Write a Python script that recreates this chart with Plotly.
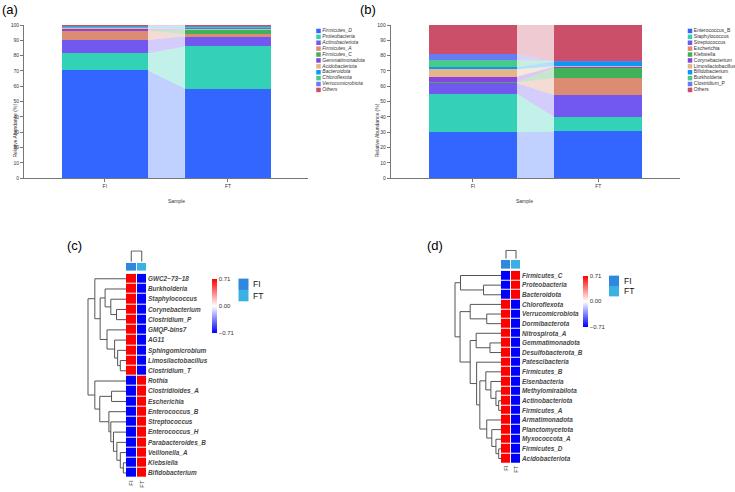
import plotly.graph_objects as go

W, H = 735, 492
def fx(p): return p / W
def fy(p): return 1 - p / H

# ---------------- DATA ----------------
samples = ["FI", "FT"]

phyla = ["Firmicutes_D", "Proteobacteria", "Actinobacteriota", "Firmicutes_A", "Firmicutes_C",
         "Gemmatimonadota", "Acidobacteriota", "Bacteroidota", "Chloroflexota", "Verrucomicrobiota", "Others"]
phyla_FI = [70.3, 11.2, 8.8, 6.0, 0.3, 1.0, 0.5, 0.5, 0.5, 0.4, 0.5]
phyla_FT = [58.5, 27.5, 6.7, 1.3, 2.8, 0.5, 0.3, 1.0, 0.4, 0.5, 0.5]

genera = ["Enterococcus_B", "Staphylococcus", "Streptococcus", "Escherichia", "Klebsiella",
          "Corynebacterium", "Limosilactobacillus", "Bifidobacterium", "Burkholderia", "Clostridium_P", "Others"]
genera_FI = [29.9, 25.2, 7.1, 0.2, 0.1, 3.8, 4.8, 1.5, 4.3, 4.0, 19.1]
genera_FT = [30.5, 9.5, 14.2, 11.2, 6.9, 0.6, 0.2, 3.0, 0.1, 0.1, 23.7]

stack_colors = ["#3366FF", "#33D1B5", "#7257F0", "#DB8C72", "#41B05A", "#8A44DD",
                "#E4B48A", "#0A99F2", "#49C98C", "#667BF5", "#CC4F6A"]

heat_c_rows = ["GWC2\u221273\u221218", "Burkholderia", "Staphylococcus", "Corynebacterium", "Clostridium_P",
               "GMQP-bins7", "AG11", "Sphingomicrobium", "Limosilactobacillus", "Clostridium_T",
               "Rothia", "Clostridioides_A", "Escherichia", "Enterococcus_B", "Streptococcus",
               "Enterococcus_H", "Parabacteroides_B", "Veillonella_A", "Klebsiella", "Bifidobacterium"]
heat_c_FI = [0.71, 0.71, 0.71, 0.71, 0.71, 0.71, 0.71, 0.71, 0.71, 0.71,
             -0.71, -0.71, -0.71, -0.71, -0.71, -0.71, -0.71, -0.71, -0.71, -0.71]
heat_c_FT = [-0.71, -0.71, -0.71, -0.71, -0.71, -0.71, -0.71, -0.71, -0.71, -0.71,
             0.71, 0.71, 0.71, 0.71, 0.71, 0.71, 0.71, 0.71, 0.71, 0.71]
# row dendrogram merges: (child_a, child_b, height)
tree_c = [(3, 4, 0.25), (2, 20, 0.40), (1, 21, 0.55), (8, 9, 0.15), (7, 23, 0.22), (6, 24, 0.30),
          (5, 25, 0.50), (22, 26, 0.68), (0, 27, 0.82),
          (18, 19, 0.07), (17, 29, 0.15), (16, 30, 0.24), (15, 31, 0.33), (14, 32, 0.40), (13, 33, 0.45),
          (11, 12, 0.38), (35, 34, 0.69), (10, 36, 0.82), (28, 37, 1.0)]

heat_d_rows = ["Firmicutes_C", "Proteobacteria", "Bacteroidota", "Chloroflexota", "Verrucomicrobiota",
               "Dormibacterota", "Nitrospirota_A", "Gemmatimonadota", "Desulfobacterota_B", "Patescibacteria",
               "Firmicutes_B", "Eisenbacteria", "Methylomirabilota", "Actinobacteriota", "Firmicutes_A",
               "Armatimonadota", "Planctomycetota", "Myxococcota_A", "Firmicutes_D", "Acidobacteriota"]
heat_d_FI = [-0.71, -0.71, -0.71, 0.71, 0.71, 0.71, 0.71, 0.71, 0.71, 0.71,
             0.71, 0.71, 0.71, 0.71, 0.71, 0.71, 0.71, 0.71, 0.71, 0.71]
heat_d_FT = [0.71, 0.71, 0.71, -0.71, -0.71, -0.71, -0.71, -0.71, -0.71, -0.71,
             -0.71, -0.71, -0.71, -0.71, -0.71, -0.71, -0.71, -0.71, -0.71, -0.71]
tree_d = [(1, 2, 0.38), (0, 20, 0.88), (4, 5, 0.31), (3, 22, 0.67), (7, 8, 0.24), (6, 24, 0.54),
          (13, 14, 0.05), (12, 26, 0.11), (11, 27, 0.22), (10, 28, 0.33),
          (18, 19, 0.05), (17, 30, 0.11), (16, 31, 0.20), (15, 32, 0.31),
          (29, 33, 0.46), (9, 34, 0.53), (25, 35, 0.67), (23, 36, 0.89), (21, 37, 1.0)]
tree_cols = [(0, 1, 1.0)]

FI_COL, FT_COL = "#2F87DE", "#3AB0E4"
FONT = "Liberation Sans, Arial, sans-serif"

# ---------------- helpers ----------------
def rgba(hexc, a):
    h = hexc.lstrip("#")
    return "rgba(%d,%d,%d,%.2f)" % (int(h[0:2], 16), int(h[2:4], 16), int(h[4:6], 16), a)

def dendro(n, merges):
    pos = {i: float(i) for i in range(n)}
    hgt = {i: 0.0 for i in range(n)}
    hs, ps = [], []
    for k, (a, b, h) in enumerate(merges):
        for c in (a, b):
            hs += [hgt[c], h, None]; ps += [pos[c], pos[c], None]
        hs += [h, h, None]; ps += [pos[a], pos[b], None]
        pos[n + k] = (pos[a] + pos[b]) / 2; hgt[n + k] = h
    return hs, ps

fig = go.Figure()
layout = {}
annotations = []
shapes = []
BW = 0.7

def hidden(domain, rng, anchor):
    return dict(domain=domain, range=rng, visible=False, anchor=anchor, fixedrange=True)

def bar_panel(ax, lax, taxa, vfi, vft, xd, legx, italic):
    xa, ya = "x" + ax, "y" + ax
    xk, yk = "xaxis" + ax, "yaxis" + ax
    cfi = [sum(vfi[:i]) for i in range(len(vfi) + 1)]
    cft = [sum(vft[:i]) for i in range(len(vft) + 1)]
    for i, t in enumerate(taxa):
        fig.add_trace(go.Scatter(
            x=[BW / 2, BW / 2, 1 - BW / 2, 1 - BW / 2, BW / 2],
            y=[cfi[i], cfi[i + 1], cft[i + 1], cft[i], cfi[i]],
            fill="toself", fillcolor=rgba(stack_colors[i], 0.3), line=dict(width=0),
            mode="lines", hoverinfo="skip", showlegend=False, xaxis=xa, yaxis=ya))
    for i, t in enumerate(taxa):
        fig.add_trace(go.Bar(x=[0, 1], y=[vfi[i], vft[i]], width=BW, name=t,
                             marker=dict(color=stack_colors[i], line=dict(width=0)),
                             showlegend=False, xaxis=xa, yaxis=ya))
    axcol = "#777777"
    layout[xk] = dict(domain=[fx(xd[0]), fx(xd[1])], range=[-0.656, 1.652], tickvals=[0, 1],
                      ticktext=samples, showline=True, linecolor=axcol, linewidth=1, ticks="outside",
                      ticklen=3, tickcolor=axcol, tickfont=dict(size=5, color="#333"), showgrid=False,
                      zeroline=False, anchor=ya, fixedrange=True)
    layout[yk] = dict(domain=[fy(177.3), fy(22.3)], range=[0, 100], tickvals=list(range(0, 101, 10)),
                      showline=True, linecolor=axcol, linewidth=1, ticks="outside", ticklen=3,
                      tickcolor=axcol, tickfont=dict(size=5, color="#333"), showgrid=False,
                      zeroline=False, anchor=xa, fixedrange=True)
    annotations.append(dict(text="Relative Abundance (%)", x=fx(xd[0] - 14), y=fy(99.8), xref="paper",
                            yref="paper", textangle=-90, showarrow=False, font=dict(size=5, color="#333")))
    annotations.append(dict(text="Sample", x=fx((xd[0] + xd[1]) / 2), y=fy(200), xref="paper",
                            yref="paper", showarrow=False, font=dict(size=5, color="#333")))
    # legend drawn on its own axis
    lx, ly = "x" + lax, "y" + lax
    txt = [("<i>%s</i>" % t) if italic else t for t in taxa]
    fig.add_trace(go.Scatter(x=[0] * len(taxa), y=list(range(len(taxa))), mode="markers+text",
                             text=txt, textposition="middle right",
                             textfont=dict(size=5, color="#333"),
                             marker=dict(symbol="square", size=4.5, color=stack_colors, line=dict(width=0)),
                             hoverinfo="skip", showlegend=False, xaxis=lx, yaxis=ly, cliponaxis=False))
    right = min(legx + 40, W)
    layout["xaxis" + lax] = hidden([fx(legx - 2.3), fx(right)], [-2.3, right - legx], ly)
    layout["yaxis" + lax] = hidden([fy(28.3 + 10.5 * 5.97), fy(28.3 - 0.5 * 5.97)], [10.5, -0.5], lx)

def heat_panel(axs, rows, vfi, vft, tree, hx, hy, dleft, ann_y, top_y, cb, leg):
    a_h, a_d, a_a, a_t = axs
    n = len(rows)
    z = [[vfi[i], vft[i]] for i in range(n)]
    fig.add_trace(go.Heatmap(
        z=z, x=[0, 1], y=list(range(n)), zmin=-0.7101, zmax=0.7101, xgap=1, ygap=1,
        colorscale=[[0, "#0000FF"], [0.5, "#FFFFFF"], [1, "#FF0000"]],
        colorbar=dict(x=fx(cb[0]), xanchor="left", y=fy(cb[1]), yanchor="top", len=cb[2],
                      lenmode="pixels", thickness=5, thicknessmode="pixels", xpad=0, ypad=0,
                      outlinewidth=0, tickvals=[-0.71, 0, 0.71], ticktext=["\u22120.71", "0.00", "0.71"],
                      ticks="", tickfont=dict(size=6, color="#333")),
        hoverinfo="skip", xaxis="x" + a_h, yaxis="y" + a_h))
    layout["xaxis" + a_h] = dict(domain=[fx(hx[0]), fx(hx[1])], range=[-0.5, 1.5], tickvals=[0, 1],
                                 ticktext=samples, tickangle=-90, tickfont=dict(size=6, color="#333"),
                                 ticks="", showline=False, showgrid=False, zeroline=False,
                                 anchor="y" + a_h, fixedrange=True)
    layout["yaxis" + a_h] = dict(domain=[fy(hy[1]), fy(hy[0])], range=[n - 0.5, -0.5],
                                 tickvals=list(range(n)), ticktext=["<b><i>%s</i></b>" % r for r in rows],
                                 side="right", ticks="", tickfont=dict(size=6.4, color="#484848"),
                                 showline=False, showgrid=False, zeroline=False,
                                 anchor="x" + a_h, fixedrange=True)
    # row dendrogram
    hs, ps = dendro(n, tree)
    fig.add_trace(go.Scatter(x=hs, y=ps, mode="lines", line=dict(color="#555", width=1),
                             hoverinfo="skip", showlegend=False, xaxis="x" + a_d, yaxis="y" + a_d))
    layout["xaxis" + a_d] = hidden([fx(dleft - 1), fx(hx[0])], [1.0 + 1.0 / (hx[0] - dleft), 0], "y" + a_d)
    layout["yaxis" + a_d] = hidden([fy(hy[1]), fy(hy[0])], [n - 0.5, -0.5], "x" + a_d)
    # column annotation
    fig.add_trace(go.Heatmap(z=[[0, 1]], x=[0, 1], y=[0], zmin=0, zmax=1, xgap=1, showscale=False,
                             colorscale=[[0, FI_COL], [0.5, FI_COL], [0.5, FT_COL], [1, FT_COL]],
                             hoverinfo="skip", xaxis="x" + a_a, yaxis="y" + a_a))
    layout["xaxis" + a_a] = hidden([fx(hx[0]), fx(hx[1])], [-0.5, 1.5], "y" + a_a)
    layout["yaxis" + a_a] = hidden([fy(ann_y[1]), fy(ann_y[0])], [-0.5, 0.5], "x" + a_a)
    # column dendrogram
    hs, ps = dendro(2, tree_cols)
    fig.add_trace(go.Scatter(x=ps, y=hs, mode="lines", line=dict(color="#555", width=1),
                             hoverinfo="skip", showlegend=False, xaxis="x" + a_t, yaxis="y" + a_t))
    layout["xaxis" + a_t] = hidden([fx(hx[0]), fx(hx[1])], [-0.5, 1.5], "y" + a_t)
    layout["yaxis" + a_t] = hidden([fy(top_y[1]), fy(top_y[0] - 0.6)], [0, 1.06], "x" + a_t)
    # sample legend
    lx, ly0, ly1, ly2 = leg
    for (c, y0, y1, lab) in [(FI_COL, ly0, ly1, "FI"), (FT_COL, ly1, ly2, "FT")]:
        shapes.append(dict(type="rect", xref="paper", yref="paper", x0=fx(lx), x1=fx(lx + 10),
                           y0=fy(y1), y1=fy(y0), fillcolor=c, line=dict(width=0)))
        annotations.append(dict(text=lab, x=fx(lx + 12.5), y=fy((y0 + y1) / 2), xref="paper", yref="paper",
                                xanchor="left", showarrow=False, font=dict(size=8.5, color="#111")))

bar_panel("", "2", phyla, phyla_FI, phyla_FT, (24, 308.3), 318.5, True)
bar_panel("3", "4", genera, genera_FI, genera_FT, (390.7, 680), 690, False)

heat_panel(("5", "6", "7", "8"), heat_c_rows, heat_c_FI, heat_c_FT, tree_c,
           hx=(126, 147), hy=(274, 481), dleft=88, ann_y=(263, 271), top_y=(251, 262),
           cb=(212, 279, 54), leg=(238.5, 279, 290.5, 302))
heat_panel(("9", "10", "11", "12"), heat_d_rows, heat_d_FI, heat_d_FT, tree_d,
           hx=(501, 521), hy=(271, 466), dleft=455, ann_y=(260, 269), top_y=(250.5, 259),
           cb=(583, 276, 51), leg=(609, 276, 286.5, 297))

for lab, x, y in [("(a)", 0, 7), ("(b)", 358, 7), ("(c)", 65, 245), ("(d)", 425, 245)]:
    annotations.append(dict(text=lab, x=fx(x), y=fy(y), xref="paper", yref="paper", xanchor="left",
                            yanchor="middle", showarrow=False, font=dict(size=13, color="#000")))

fig.update_layout(width=W, height=H, margin=dict(l=0, r=0, t=0, b=0), paper_bgcolor="white",
                  plot_bgcolor="rgba(0,0,0,0)", barmode="stack", showlegend=False,
                  font=dict(family=FONT), annotations=annotations, shapes=shapes, **layout)
fig.write_html("out.html")
